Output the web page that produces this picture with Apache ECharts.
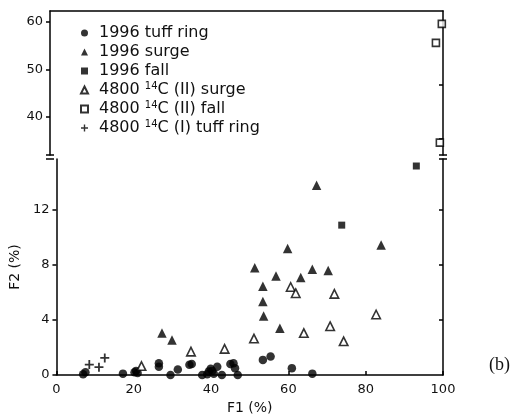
<!DOCTYPE html>
<html><head><meta charset="utf-8">
<script src="https://cdn.jsdelivr.net/npm/echarts@6/dist/echarts.min.js"></script>
<style>html,body{margin:0;padding:0;background:#fff}#c{width:518px;height:420px}</style>
</head><body><div id="c"></div>
<script>
// F1 (%), F2 (%)
const tuffRing1996 = [[6.9,0.05],[7.5,0.2],[17.2,0.1],[20.2,0.2],[20.6,0.3],[21,0.15],[26.5,0.85],[26.5,0.6],[29.5,0],[31.4,0.4],[34.4,0.75],[35,0.8],[37.7,0],[39,0.05],[39.4,0.25],[39.9,0.45],[40.3,0.3],[40.7,0.1],[41.6,0.6],[42.8,0],[45,0.8],[45.8,0.85],[46.2,0.5],[46.9,0],[53.4,1.1],[55.4,1.35],[60.9,0.5],[66.2,0.1]];
const surge1996 = [[27.3,3.05],[29.9,2.55],[51.3,7.8],[53.4,6.45],[53.4,5.35],[53.6,4.3],[56.8,7.2],[57.8,3.4],[59.8,9.2],[63.2,7.1],[66.2,7.7],[67.3,13.8],[70.3,7.6],[84,9.45]];
const fall1996 = [[73.8,10.9],[93.1,15.2]];
const surge4800 = [[22,0.65],[34.8,1.7],[43.5,1.9],[51.1,2.65],[60.6,6.4],[61.9,5.95],[64,3.05],[70.8,3.55],[71.9,5.9],[74.3,2.45],[82.7,4.4]];
const fall4800 = [[98.2,55.6],[99.2,34.6],[99.7,59.6]];
const tuffRing4800 = [[8.5,0.76],[11,0.57],[12.5,1.24]];

const seriesNames = ['1996 tuff ring','1996 surge','1996 fall','4800 14C (II) surge','4800 14C (II) fall','4800 14C (I) tuff ring'];
const upperTicks = [40,50,60];
const lowerTicks = [0,4,8,12];
const upperRightTicks = [35.4,46.7];
const lowerRightTicks = [4,8,12];

const FONT = 'DejaVu Sans';
const INK = '#111';
const chart = echarts.init(document.getElementById('c'));
const lineStyle = {color:'#000', width:1.5};
const filled = {color:'#000'};
const open = {color:'#fff', borderColor:'#000', borderWidth:1.6};

chart.setOption({
  animation:false,
  backgroundColor:'#fff',
  grid:[
    {left:50, right:75, top:11, height:144},
    {left:50, right:75, top:159, height:220}
  ],
  legend:{
    orient:'vertical', left:80, top:24, padding:0, itemWidth:7, itemHeight:7, itemGap:1,
    symbolKeepAspect:true,
    data: seriesNames,
    formatter: n => n.replace(' 14C', ' {sup|14}C'),
    textStyle:{fontFamily:FONT, fontSize:16, color:INK, lineHeight:18, padding:[0,0,0,6],
      rich:{sup:{fontFamily:FONT, fontSize:10, lineHeight:10, verticalAlign:'top', color:INK}}}
  },
  xAxis:[
    {gridIndex:0, type:'value', min:0, max:100, interval:20, position:'top',
     axisLine:{show:true, lineStyle}, axisTick:{show:false}, axisLabel:{show:false}, splitLine:{show:false}},
    {gridIndex:1, type:'value', min:0, max:100, interval:20, position:'bottom',
     name:'F1 (%)', nameLocation:'middle', nameGap:26,
     nameTextStyle:{fontFamily:FONT, fontSize:14, color:INK},
     axisLine:{show:true, onZero:false, lineStyle}, axisTick:{show:true, inside:true, length:4, lineStyle},
     axisLabel:{fontFamily:FONT, fontSize:13, color:INK, margin:8}, splitLine:{show:false}}
  ],
  yAxis:[
    {gridIndex:0, type:'value', min:32, max:62.3,
     axisLine:{show:true, lineStyle}, axisTick:{show:true, length:4, lineStyle, customValues:upperTicks},
     axisLabel:{fontFamily:FONT, fontSize:13, color:INK, margin:7, customValues:upperTicks}, splitLine:{show:false}},
    {gridIndex:1, type:'value', min:0, max:15.71,
     name:'F2 (%)', nameLocation:'middle', nameGap:21,
     nameTextStyle:{fontFamily:FONT, fontSize:14, color:INK},
     axisLine:{show:true, lineStyle}, axisTick:{show:true, length:4, lineStyle, customValues:lowerTicks},
     axisLabel:{fontFamily:FONT, fontSize:13, color:INK, margin:7, customValues:lowerTicks}, splitLine:{show:false}},
    {gridIndex:0, type:'value', min:32, max:62.3, position:'right',
     axisLine:{show:true, lineStyle}, axisTick:{show:true, inside:true, length:4, lineStyle, customValues:upperRightTicks},
     axisLabel:{show:false}, splitLine:{show:false}},
    {gridIndex:1, type:'value', min:0, max:15.71, position:'right',
     axisLine:{show:true, lineStyle}, axisTick:{show:true, inside:true, length:4, lineStyle, customValues:lowerRightTicks},
     axisLabel:{show:false}, splitLine:{show:false}}
  ],
  series:[
    {name:seriesNames[0], type:'scatter', xAxisIndex:1, yAxisIndex:1, data:tuffRing1996, symbol:'circle', symbolSize:8.5, itemStyle:filled},
    {name:seriesNames[1], type:'scatter', xAxisIndex:1, yAxisIndex:1, data:surge1996, symbol:'triangle', symbolSize:9.5, itemStyle:filled},
    {name:seriesNames[2], type:'scatter', xAxisIndex:1, yAxisIndex:1, data:fall1996, symbol:'rect', symbolSize:7, itemStyle:filled},
    {name:seriesNames[3], type:'scatter', xAxisIndex:1, yAxisIndex:1, data:surge4800, symbol:'triangle', symbolSize:8.5, itemStyle:open},
    {name:seriesNames[4], type:'scatter', xAxisIndex:0, yAxisIndex:0, data:fall4800, symbol:'rect', symbolSize:7, itemStyle:open, clip:false},
    {name:seriesNames[5], type:'scatter', xAxisIndex:1, yAxisIndex:1, data:tuffRing4800, symbol:'path://M4,0H6V4H10V6H6V10H4V6H0V4H4Z', symbolSize:9, itemStyle:filled}
  ],
  graphic:[
    {type:'line', shape:{x1:46,y1:155,x2:54,y2:155}, style:{stroke:'#000', lineWidth:1.5}},
    {type:'line', shape:{x1:46,y1:159,x2:54,y2:159}, style:{stroke:'#000', lineWidth:1.5}},
    {type:'line', shape:{x1:439,y1:155,x2:447,y2:155}, style:{stroke:'#000', lineWidth:1.5}},
    {type:'line', shape:{x1:439,y1:159,x2:447,y2:159}, style:{stroke:'#000', lineWidth:1.5}},
    {type:'text', x:489, y:356, style:{text:'(b)', font:'18px "Liberation Serif"', fill:INK}}
  ]
});
</script></body></html>
